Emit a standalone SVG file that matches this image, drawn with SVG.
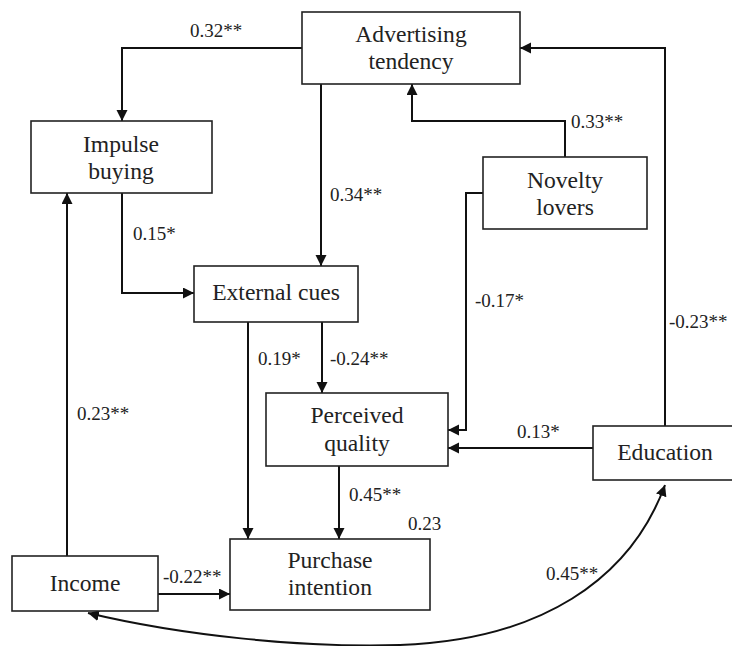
<svg xmlns="http://www.w3.org/2000/svg" width="732" height="646" viewBox="0 0 732 646">
<defs>
<marker id="ah" markerWidth="12" markerHeight="12" refX="11" refY="5.5" orient="auto-start-reverse" markerUnits="userSpaceOnUse"><path d="M0,0 L11,5.5 L0,11 z" fill="#111"/></marker>
<style>
.box{fill:#fff;stroke:#222;stroke-width:1.6}
.nt{font-family:'Liberation Serif','Times New Roman',serif;font-size:23.6px;fill:#222;text-anchor:middle}
.lb{font-family:'Liberation Serif','Times New Roman',serif;font-size:19px;fill:#222}
.cn{fill:none;stroke:#111;stroke-width:2;marker-end:url(#ah)}
</style>
</defs>
<rect width="732" height="646" fill="#fff"/>
<g id="connectors">
<path class="cn" d="M302,48 H122 V121"/>
<path class="cn" d="M321,84 V266"/>
<path class="cn" d="M122,193 V293 H194"/>
<path class="cn" d="M565,157 V121 H412 V84"/>
<path class="cn" d="M665,426 V48 H520"/>
<path class="cn" d="M483,193 H466 V430 H448"/>
<path class="cn" d="M593,448 H448"/>
<path class="cn" d="M322,322 V393"/>
<path class="cn" d="M248,322 V539"/>
<path class="cn" d="M339,466 V539"/>
<path class="cn" d="M67,556 V193"/>
<path class="cn" d="M158,594 H230"/>
<path class="cn" style="marker-start:url(#ah)" d="M88,613 C180,635 300,648 400,645 C540,640 630,580 665,485"/>
</g>
<g id="labels">
<text class="lb" x="190" y="37">0.32**</text>
<text class="lb" x="330" y="201">0.34**</text>
<text class="lb" x="133" y="240">0.15*</text>
<text class="lb" x="571" y="128">0.33**</text>
<text class="lb" x="475" y="307">-0.17*</text>
<text class="lb" x="669" y="328">-0.23**</text>
<text class="lb" x="258" y="365">0.19*</text>
<text class="lb" x="330" y="365">-0.24**</text>
<text class="lb" x="77" y="420">0.23**</text>
<text class="lb" x="517" y="438">0.13*</text>
<text class="lb" x="349" y="501">0.45**</text>
<text class="lb" x="408" y="530">0.23</text>
<text class="lb" x="163" y="583">-0.22**</text>
<text class="lb" x="546" y="580">0.45**</text>
</g>
<g id="advertising">
<rect class="box" x="302" y="12" width="218" height="72"/>
<text class="nt" x="411" y="42">Advertising</text>
<text class="nt" x="411" y="69">tendency</text>
</g>
<g id="impulse">
<rect class="box" x="31" y="121" width="181" height="72"/>
<text class="nt" x="121" y="152">Impulse</text>
<text class="nt" x="121" y="179">buying</text>
</g>
<g id="novelty">
<rect class="box" x="483" y="157" width="164" height="72"/>
<text class="nt" x="565" y="188">Novelty</text>
<text class="nt" x="565" y="215">lovers</text>
</g>
<g id="external">
<rect class="box" x="194" y="266" width="164" height="56"/>
<text class="nt" x="276" y="300">External cues</text>
</g>
<g id="perceived">
<rect class="box" x="266" y="393" width="182" height="73"/>
<text class="nt" x="357" y="423">Perceived</text>
<text class="nt" x="357" y="451">quality</text>
</g>
<g id="education">
<rect class="box" x="593" y="426" width="144" height="54"/>
<text class="nt" x="665" y="460">Education</text>
</g>
<g id="purchase">
<rect class="box" x="230" y="539" width="200" height="71"/>
<text class="nt" x="330" y="568">Purchase</text>
<text class="nt" x="330" y="595">intention</text>
</g>
<g id="income">
<rect class="box" x="12" y="556" width="146" height="55"/>
<text class="nt" x="85" y="591">Income</text>
</g>
</svg>
